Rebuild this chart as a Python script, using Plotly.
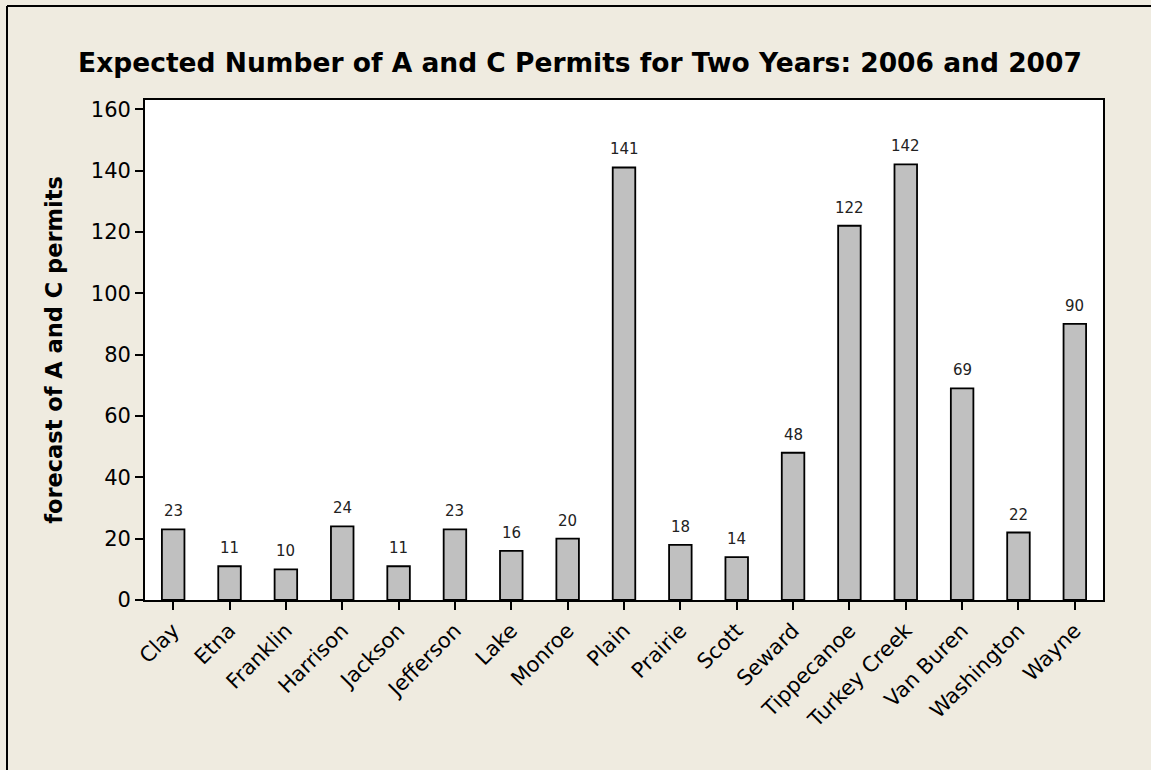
import plotly.graph_objects as go

categories = ["Clay", "Etna", "Franklin", "Harrison", "Jackson", "Jefferson", "Lake",
              "Monroe", "Plain", "Prairie", "Scott", "Seward", "Tippecanoe",
              "Turkey Creek", "Van Buren", "Washington", "Wayne"]
values = [23, 11, 10, 24, 11, 23, 16, 20, 141, 18, 14, 48, 122, 142, 69, 22, 90]
y_ticks = [0, 20, 40, 60, 80, 100, 120, 140, 160]

title_text = "Expected Number of A and C Permits for Two Years: 2006 and 2007"
y_title = "forecast of A and C permits"

W, H = 1151, 770
ML, MR, MT, MB = 145, 48, 100, 170
BG = "#EFEBE0"
FONT = "DejaVu Sans"

fig = go.Figure()
fig.add_trace(go.Bar(
    x=categories, y=values, width=0.4,
    marker=dict(color="#C0C0C0", line=dict(color="black", width=1.8)),
    hoverinfo="x+y",
))

for c, v in zip(categories, values):
    fig.add_annotation(x=c, y=v, xref="x", yref="y", text=str(v), showarrow=False,
                       yanchor="bottom", yshift=7,
                       font=dict(family=FONT, size=15, color="#222222"))

pw = W - ML - MR
ph = H - MT - MB
def px2x(px):
    return (px - ML) / pw
def py2y(py):
    return (H - MB - py) / ph

fig.add_shape(type="line", xref="paper", yref="paper",
              x0=px2x(7), x1=px2x(7), y0=py2y(H + 5), y1=py2y(6),
              line=dict(color="black", width=2))
fig.add_shape(type="line", xref="paper", yref="paper",
              x0=px2x(7), x1=px2x(W + 5), y0=py2y(6), y1=py2y(6),
              line=dict(color="black", width=2))

fig.update_layout(
    width=W, height=H,
    margin=dict(l=ML, r=MR, t=MT, b=MB, autoexpand=False),
    paper_bgcolor=BG, plot_bgcolor="white",
    showlegend=False,
    font=dict(family=FONT, color="black"),
    title=dict(text="<b>" + title_text + "</b>", x=580 / W, xanchor="center",
               xref="container", y=1 - 63 / H, yanchor="middle", yref="container",
               font=dict(family=FONT, size=26.5, color="black")),
)
fig.update_xaxes(
    type="category", range=[-0.5, 16.5],
    showline=True, linecolor="black", linewidth=1.8, mirror=True,
    ticks="outside", ticklen=8, tickwidth=1.5, tickcolor="black",
    tickangle=-45, tickfont=dict(family=FONT, size=21, color="black"),
    showgrid=False,
)
fig.update_yaxes(
    range=[0, 163], tickvals=y_ticks,
    showline=True, linecolor="black", linewidth=1.8, mirror=True,
    ticks="outside", ticklen=8, tickwidth=1.5, tickcolor="black",
    tickfont=dict(family=FONT, size=21, color="black"),
    showgrid=False, zeroline=False,
    title=dict(text="<b>" + y_title + "</b>", standoff=22,
               font=dict(family=FONT, size=22.5, color="black")),
)

fig.write_html("out.html", config={"displayModeBar": False},
               post_script="document.body.style.margin='0';document.body.style.overflow='hidden';")
